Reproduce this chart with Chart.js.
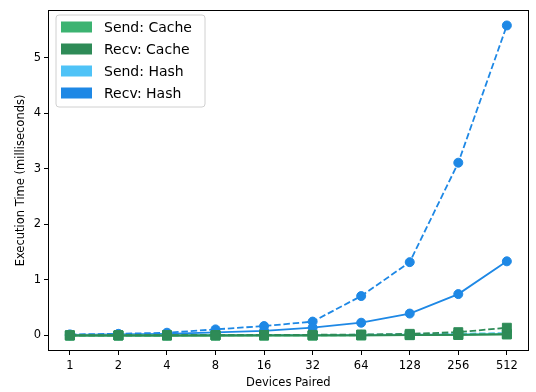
<!DOCTYPE html>
<html><head><meta charset="utf-8">
<script src="https://cdn.jsdelivr.net/npm/chart.js@4.4.1/dist/chart.umd.min.js"></script>
<style>html,body{margin:0;padding:0;background:#fff}#wrap{width:536px;height:392px}</style>
</head><body><div id="wrap"><canvas id="c" width="536" height="392"></canvas></div>
<script>
const categories = ['1','2','4','8','16','32','64','128','256','512'];
const yTicks = [0, 1, 2, 3, 4, 5];
const legendLabels = ['Send: Cache', 'Recv: Cache', 'Send: Hash', 'Recv: Hash'];
const legendColors = ['#3cb371', '#2e8b57', '#4fc3f7', '#1e88e5'];

const sendCacheSolid  = [0.000, 0.000, 0.000, 0.000, 0.000, 0.000, 0.004, 0.007, 0.012, 0.022];
const sendCacheDashed = [0.000, 0.000, 0.000, 0.001, 0.001, 0.002, 0.005, 0.010, 0.018, 0.030];
const recvCacheSolid  = [0.000, 0.000, 0.000, 0.000, 0.001, 0.001, 0.003, 0.006, 0.010, 0.020];
const recvCacheDashed = [0.005, 0.006, 0.007, 0.008, 0.010, 0.012, 0.018, 0.030, 0.060, 0.140];
const sendHashSolid   = [0.002, 0.003, 0.004, 0.005, 0.006, 0.008, 0.010, 0.014, 0.020, 0.030];
const sendHashDashed  = [0.003, 0.004, 0.005, 0.006, 0.008, 0.010, 0.014, 0.020, 0.030, 0.045];
const recvHashSolid   = [0.010, 0.020, 0.030, 0.055, 0.085, 0.140, 0.230, 0.395, 0.745, 1.335];
const recvHashDashed  = [0.020, 0.030, 0.050, 0.110, 0.170, 0.250, 0.710, 1.320, 3.110, 5.580];

const FONT = "'DejaVu Sans', sans-serif";
const toPts = arr => arr.map((v, i) => ({x: i, y: v}));

function ds(label, data, color, dashed, style, order) {
  return {
    label, data: toPts(data), borderColor: color, backgroundColor: color,
    pointBackgroundColor: color, pointBorderColor: color,
    borderWidth: 1.8, borderDash: dashed ? [6.5, 2.8] : [],
    pointStyle: style, pointRadius: style === 'rect' ? 6.3 : 4.5,
    pointBorderWidth: 1, tension: 0, fill: false, order
  };
}

const frameAndLegend = {
  id: 'frameAndLegend',
  afterDraw(chart) {
    const ctx = chart.ctx, a = chart.chartArea;
    ctx.save();
    ctx.strokeStyle = '#000';
    ctx.lineWidth = 1;
    ctx.strokeRect(Math.round(a.left) + 0.5, Math.round(a.top) + 0.5,
                   Math.round(a.right - a.left) - 1, Math.round(a.bottom - a.top) - 1);
    // legend
    const bx = 56, by = 15, bw = 149, bh = 92, r = 3;
    ctx.beginPath();
    ctx.moveTo(bx + r, by);
    ctx.arcTo(bx + bw, by, bx + bw, by + bh, r);
    ctx.arcTo(bx + bw, by + bh, bx, by + bh, r);
    ctx.arcTo(bx, by + bh, bx, by, r);
    ctx.arcTo(bx, by, bx + bw, by, r);
    ctx.closePath();
    ctx.fillStyle = 'rgba(255,255,255,0.8)';
    ctx.fill();
    ctx.strokeStyle = '#d0d0d0';
    ctx.stroke();
    ctx.font = '14px ' + FONT;
    ctx.textBaseline = 'middle';
    ctx.textAlign = 'left';
    legendLabels.forEach((lab, i) => {
      const cy = 27 + 22 * i;
      ctx.fillStyle = legendColors[i];
      ctx.fillRect(61, cy - 5.5, 31, 11);
      ctx.fillStyle = '#000';
      ctx.fillText(lab, 104, cy + 1);
    });
    ctx.restore();
  }
};

new Chart(document.getElementById('c'), {
  type: 'line',
  data: {
    datasets: [
      ds('Recv: Hash', recvHashDashed, legendColors[3], true, 'circle', 8),
      ds('Recv: Hash', recvHashSolid, legendColors[3], false, 'circle', 7),
      ds('Send: Hash', sendHashDashed, legendColors[2], true, 'circle', 6),
      ds('Send: Hash', sendHashSolid, legendColors[2], false, 'circle', 5),
      ds('Send: Cache', sendCacheDashed, legendColors[0], true, 'rect', 4),
      ds('Send: Cache', sendCacheSolid, legendColors[0], false, 'rect', 3),
      ds('Recv: Cache', recvCacheSolid, legendColors[1], false, 'rect', 2),
      ds('Recv: Cache', recvCacheDashed, legendColors[1], true, 'rect', 1)
    ]
  },
  options: {
    responsive: false, animation: false, devicePixelRatio: 1,
    layout: {padding: {left: 0, right: 3, top: 0, bottom: 0}},
    plugins: {legend: {display: false}, tooltip: {enabled: false}},
    scales: {
      x: {
        type: 'linear', min: -0.45, max: 9.45,
        afterBuildTicks: s => { s.ticks = categories.map((_, i) => ({value: i})); },
        afterFit: s => { s.height = 41; },
        ticks: {callback: v => categories[v], autoSkip: false, maxRotation: 0,
                padding: 4, color: '#000', font: {family: FONT, size: 11.5}},
        grid: {drawOnChartArea: false, drawTicks: true, tickLength: 4, color: '#000', lineWidth: 1},
        border: {display: false},
        title: {display: true, text: 'Devices Paired', color: '#000',
                font: {family: FONT, size: 11.5}, padding: {top: 0, bottom: 2}}
      },
      y: {
        type: 'linear', min: -0.279, max: 5.86,
        afterBuildTicks: s => { s.ticks = yTicks.map(v => ({value: v})); },
        afterFit: s => { s.width = 48; },
        ticks: {padding: 3, color: '#000', font: {family: FONT, size: 11.5}},
        grid: {drawOnChartArea: false, drawTicks: true, tickLength: 4, color: '#000', lineWidth: 1},
        border: {display: false},
        title: {display: true, text: 'Execution Time (milliseconds)', color: '#000',
                font: {family: FONT, size: 11.5}, padding: {top: 14, bottom: 0}}
      }
    }
  },
  plugins: [frameAndLegend]
});
</script></body></html>
